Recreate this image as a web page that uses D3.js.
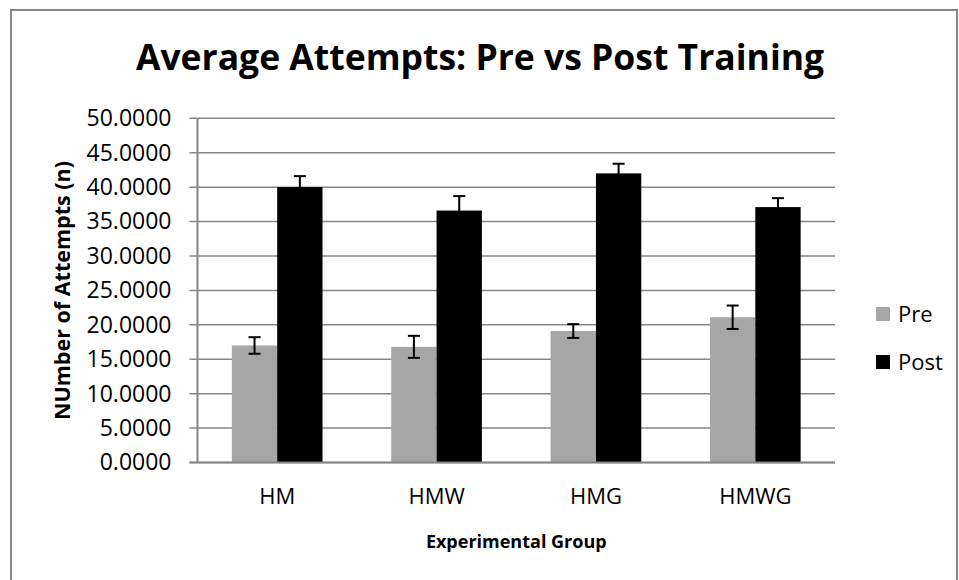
<!DOCTYPE html>
<html>
<head>
<meta charset="utf-8">
<script src="https://cdn.jsdelivr.net/npm/d3@7"></script>
<style>
  body { margin: 0; background: #fff; }
  svg { display: block; font-family: 'Open Sans', 'Noto Sans', sans-serif; }
</style>
</head>
<body>
<svg id="chart" width="959" height="580"></svg>
<script>
// data
const GROUPS = ['HM', 'HMW', 'HMG', 'HMWG'];
const SERIES = ['Pre', 'Post'];
const PRE = [17.0, 16.8, 19.1, 21.1];
const POST = [40.0, 36.6, 42.0, 37.1];
const PRE_ERR = [1.2, 1.6, 1.0, 1.7];
const POST_ERR = [1.6, 2.1, 1.4, 1.3];
const Y_TICKS = [0, 5, 10, 15, 20, 25, 30, 35, 40, 45, 50];

const COLORS = { Pre: '#a6a6a6', Post: '#000000' };
const GRID = '#868686';

const svg = d3.select('#chart');

// outer chart frame (bottom edge is cut off in the reference)
svg.append('rect')
  .attr('x', 11).attr('y', 10)
  .attr('width', 946).attr('height', 620)
  .attr('fill', 'none')
  .attr('stroke', GRID)
  .attr('stroke-width', 2);

const plot = { left: 197.5, right: 835, top: 118.3, bottom: 462.5 };

const x0 = d3.scaleBand()
  .domain(GROUPS)
  .range([plot.left, plot.right]);

const x1 = d3.scaleBand()
  .domain(SERIES)
  .range([0, x0.bandwidth()])
  .paddingInner(0)
  .paddingOuter(0.758);

const y = d3.scaleLinear()
  .domain([0, 50])
  .range([plot.bottom, plot.top]);

// gridlines
svg.append('g')
  .selectAll('line')
  .data(Y_TICKS)
  .join('line')
    .attr('x1', plot.left - 8)
    .attr('x2', plot.right)
    .attr('y1', d => y(d))
    .attr('y2', d => y(d))
    .attr('stroke', GRID)
    .attr('stroke-width', 1.5);

// y axis labels
const yAxis = d3.axisLeft(y)
  .tickValues(Y_TICKS)
  .tickFormat(d3.format('.4f'))
  .tickSize(0)
  .tickPadding(26);

svg.append('g')
  .attr('transform', `translate(${plot.left},0)`)
  .call(yAxis)
  .call(g => g.select('.domain').remove())
  .call(g => g.selectAll('text')
    .attr('font-family', "'Open Sans', sans-serif")
    .attr('font-size', 23)
    .attr('fill', '#000'));

// bars
const rows = GROUPS.map((g, i) => ({
  group: g,
  vals: [
    { s: 'Pre', v: PRE[i], e: PRE_ERR[i] },
    { s: 'Post', v: POST[i], e: POST_ERR[i] }
  ]
}));

const groupG = svg.append('g')
  .selectAll('g')
  .data(rows)
  .join('g')
    .attr('transform', d => `translate(${x0(d.group)},0)`);

groupG.selectAll('rect')
  .data(d => d.vals)
  .join('rect')
    .attr('x', d => x1(d.s))
    .attr('y', d => y(d.v))
    .attr('width', x1.bandwidth())
    .attr('height', d => y(0) - y(d.v))
    .attr('fill', d => COLORS[d.s]);

// error bars
const capW = 6;
const errG = groupG.selectAll('g.err')
  .data(d => d.vals)
  .join('g')
    .attr('class', 'err')
    .attr('stroke', '#000')
    .attr('stroke-width', 2);

errG.append('line')
  .attr('x1', d => x1(d.s) + x1.bandwidth() / 2)
  .attr('x2', d => x1(d.s) + x1.bandwidth() / 2)
  .attr('y1', d => y(d.v + d.e))
  .attr('y2', d => y(d.v - d.e));

errG.selectAll('line.cap')
  .data(d => [{ d, v: d.v + d.e }, { d, v: d.v - d.e }])
  .join('line')
    .attr('class', 'cap')
    .attr('x1', c => x1(c.d.s) + x1.bandwidth() / 2 - capW)
    .attr('x2', c => x1(c.d.s) + x1.bandwidth() / 2 + capW)
    .attr('y1', c => y(c.v))
    .attr('y2', c => y(c.v));

// axis lines on top of bars
svg.append('line')
  .attr('x1', plot.left).attr('x2', plot.left)
  .attr('y1', plot.top).attr('y2', plot.bottom)
  .attr('stroke', GRID).attr('stroke-width', 2);

svg.append('line')
  .attr('x1', plot.left - 8).attr('x2', plot.right)
  .attr('y1', plot.bottom).attr('y2', plot.bottom)
  .attr('stroke', GRID).attr('stroke-width', 2);

// x axis labels
const xAxis = d3.axisBottom(x0).tickSize(0).tickPadding(26);
svg.append('g')
  .attr('transform', `translate(0,${plot.bottom})`)
  .call(xAxis)
  .call(g => g.select('.domain').remove())
  .call(g => g.selectAll('text')
    .attr('font-family', "'Open Sans', sans-serif")
    .attr('font-size', 22)
    .attr('fill', '#000'));

// titles
svg.append('text')
  .attr('x', 480)
  .attr('y', 70)
  .attr('text-anchor', 'middle')
  .attr('font-size', 35.5)
  .attr('font-weight', 'bold')
  .text('Average Attempts: Pre vs Post Training');

svg.append('text')
  .attr('x', (plot.left + plot.right) / 2)
  .attr('y', 548)
  .attr('text-anchor', 'middle')
  .attr('font-size', 18)
  .attr('font-weight', 'bold')
  .text('Experimental Group');

svg.append('text')
  .attr('transform', `translate(70,${(157 + 424) / 2}) rotate(-90)`)
  .attr('text-anchor', 'middle')
  .attr('font-size', 21.5)
  .attr('font-weight', 'bold')
  .text('NUmber of Attempts (n)');

// legend
const legend = svg.append('g')
  .selectAll('g')
  .data(SERIES)
  .join('g')
    .attr('transform', (d, i) => `translate(876,${307 + i * 48})`);

legend.append('rect')
  .attr('width', 14).attr('height', 14)
  .attr('fill', d => COLORS[d]);

legend.append('text')
  .attr('x', 22)
  .attr('y', 15)
  .attr('font-size', 22)
  .text(d => d);
</script>
</body>
</html>
